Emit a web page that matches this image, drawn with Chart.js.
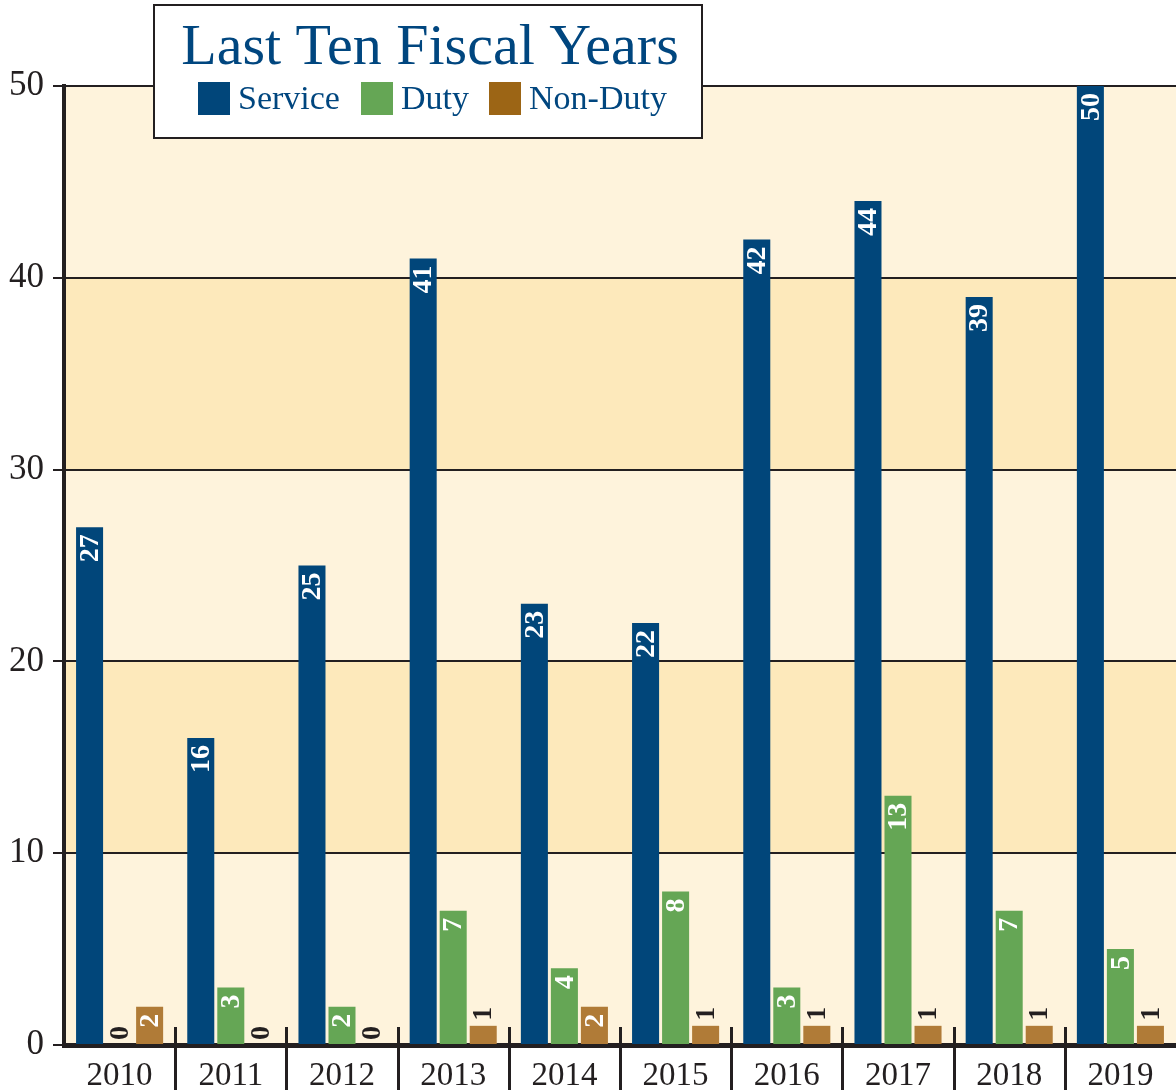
<!DOCTYPE html>
<html>
<head>
<meta charset="utf-8">
<script src="https://cdn.jsdelivr.net/npm/chart.js@4/dist/chart.umd.min.js"></script>
<style>
  body { margin: 0; background: #fff; }
  #wrap { width: 1176px; height: 1090px; position: relative; }
</style>
</head>
<body>
<div id="wrap"><canvas id="fiscalchart"></canvas></div>
<script>
const years = ['2010', '2011', '2012', '2013', '2014', '2015', '2016', '2017', '2018', '2019'];
const service = [27, 16, 25, 41, 23, 22, 42, 44, 39, 50];
const duty = [0, 3, 2, 7, 4, 8, 3, 13, 7, 5];
const nonDuty = [2, 0, 0, 1, 2, 1, 1, 1, 1, 1];
const yTicks = [0, 10, 20, 30, 40, 50];
const titleText = 'Last Ten Fiscal Years';
const legendNames = ['Service', 'Duty', 'Non-Duty'];

const SERIF = '"Liberation Serif", "DejaVu Serif", serif';
const NAVY = '#00467f';
const INK = '#231f20';
const swatches = ['#01467a', '#65a655', '#9c6515'];

// alternating horizontal bands behind the bars
const bandsPlugin = {
    id: 'bands',
    beforeDraw(chart){
        const {ctx, chartArea, scales: {y}} = chart;
        ctx.save();
        for (let i = 0; i < yTicks.length - 1; i++){
            const top = y.getPixelForValue(yTicks[i + 1]);
            const bottom = y.getPixelForValue(yTicks[i]);
            ctx.fillStyle = i % 2 == 1 ? '#fde9bb' : '#fef3dc';
            ctx.fillRect(chartArea.left, top, chartArea.right - chartArea.left, bottom - top);
        }
        ctx.restore();
    }
};

// rotated value labels, separators between years, title box
const extrasPlugin = {
    id: 'extras',
    afterDatasetsDraw(chart){
        const ctx = chart.ctx;
        ctx.save();
        ctx.font = 'bold 28px ' + SERIF;
        ctx.textBaseline = 'middle';
        chart.data.datasets.forEach((ds, di) => {
            chart.getDatasetMeta(di).data.forEach((bar, i) => {
                const v = ds.data[i];
                ctx.save();
                ctx.translate(bar.x + 1, bar.y);
                ctx.rotate(-Math.PI / 2);
                if (v >= 2){
                    ctx.fillStyle = '#fff';
                    ctx.textAlign = 'right';
                    ctx.fillText(String(v), -7, 0);
                } else {
                    ctx.fillStyle = INK;
                    ctx.textAlign = 'left';
                    ctx.fillText(String(v), 5, 0);
                }
                ctx.restore();
            });
        });
        ctx.restore();
    },
    afterDraw(chart){
        const {ctx, chartArea, scales: {x}} = chart;
        ctx.save();
        // separators between categories
        const half = (x.getPixelForValue(1) - x.getPixelForValue(0)) / 2;
        ctx.strokeStyle = INK;
        ctx.lineWidth = 3;
        for (let i = 0; i < years.length - 1; i++){
            const px = Math.round(x.getPixelForValue(i) + half) + 0.5;
            ctx.beginPath();
            ctx.moveTo(px, chartArea.bottom - 18);
            ctx.lineTo(px, chart.height);
            ctx.stroke();
        }
        // title + legend box
        const bx = 154, by = 5, bw = 548, bh = 133;
        ctx.fillStyle = '#fff';
        ctx.fillRect(bx, by, bw, bh);
        ctx.lineWidth = 2;
        ctx.strokeStyle = INK;
        ctx.strokeRect(bx, by, bw, bh);
        ctx.fillStyle = NAVY;
        ctx.textAlign = 'center';
        ctx.textBaseline = 'alphabetic';
        ctx.font = '58px ' + SERIF;
        ctx.fillText(titleText, bx + bw / 2 + 2, 64);
        ctx.font = '34px ' + SERIF;
        ctx.textAlign = 'left';
        const itemX = [198, 361, 489];
        legendNames.forEach((name, i) => {
            ctx.fillStyle = swatches[i];
            ctx.fillRect(itemX[i], 82, 32, 33);
            ctx.fillStyle = NAVY;
            ctx.fillText(name, itemX[i] + 40, 109);
        });
        ctx.restore();
    }
};

new Chart(document.getElementById('fiscalchart').getContext('2d'), {
    type: 'bar',
    data: {
        labels: years,
        datasets: [
            {label: legendNames[0], data: service, backgroundColor: '#01467a'},
            {label: legendNames[1], data: duty, backgroundColor: '#65a655'},
            {label: legendNames[2], data: nonDuty, backgroundColor: '#b07b37'}
        ]
    },
    options: {
        responsive: true,
        maintainAspectRatio: false,
        animation: false,
        layout: {padding: {top: 86, right: 0, left: 0, bottom: 0}},
        datasets: {bar: {categoryPercentage: 0.81, barPercentage: 0.9}},
        plugins: {
            legend: {display: false},
            title: {display: false},
            tooltip: {enabled: false}
        },
        scales: {
            x: {
                offset: true,
                grid: {display: false},
                border: {display: true, color: INK, width: 5},
                ticks: {
                    color: INK,
                    padding: 4,
                    font: {family: SERIF, size: 33}
                },
                afterFit(scale){ scale.height = 45; }
            },
            y: {
                min: 0,
                max: 50,
                afterBuildTicks(scale){ scale.ticks = yTicks.map(v => ({value: v})); },
                grid: {color: INK, lineWidth: 2, tickLength: 11, drawTicks: true},
                border: {display: true, color: INK, width: 4},
                ticks: {
                    color: INK,
                    padding: 9,
                    font: {family: SERIF, size: 35}
                },
                afterFit(scale){ scale.width = 64; }
            }
        }
    },
    plugins: [bandsPlugin, extrasPlugin]
});
</script>
</body>
</html>
